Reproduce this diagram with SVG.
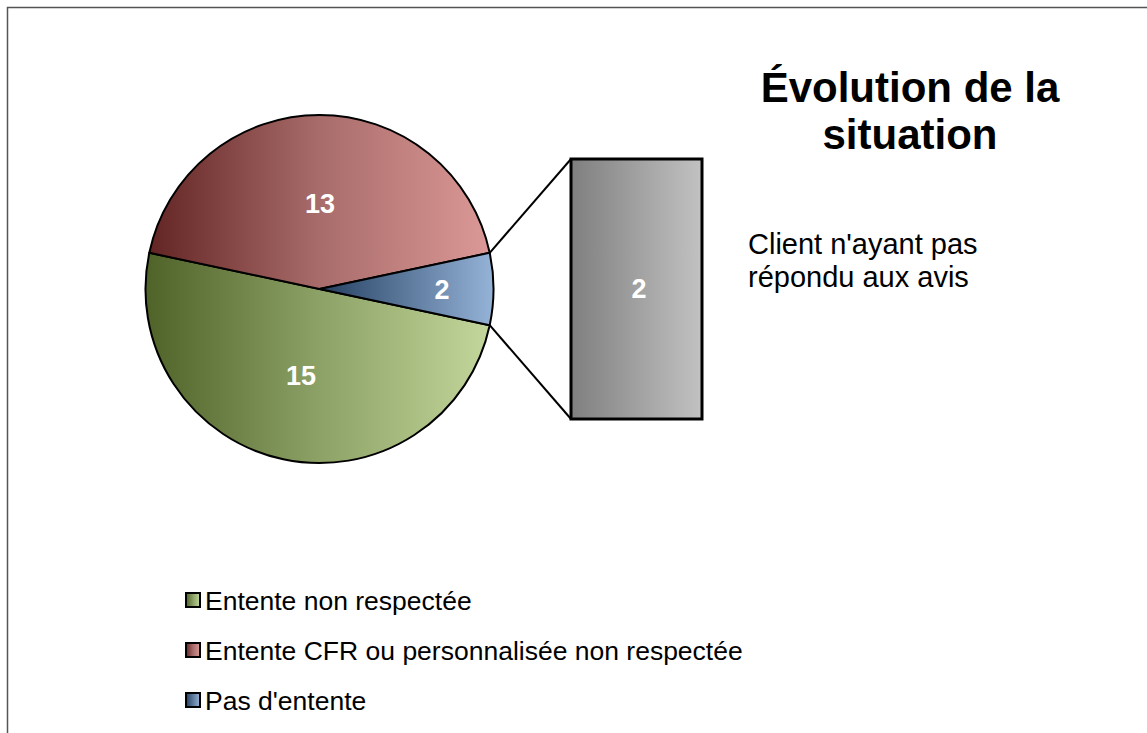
<svg xmlns="http://www.w3.org/2000/svg" width="1147" height="733" viewBox="0 0 1147 733">
<defs>
<linearGradient id="gRed" x1="0" y1="0" x2="1" y2="0"><stop offset="0" stop-color="#632523"/><stop offset="0.5" stop-color="#a86c6a"/><stop offset="1" stop-color="#db9896"/></linearGradient>
<linearGradient id="gGreen" x1="0" y1="0" x2="1" y2="0"><stop offset="0" stop-color="#4f6228"/><stop offset="0.5" stop-color="#8ca165"/><stop offset="1" stop-color="#c3d69b"/></linearGradient>
<linearGradient id="gBlue" x1="0" y1="0" x2="1" y2="0"><stop offset="0" stop-color="#243f60"/><stop offset="0.5" stop-color="#5d7a9d"/><stop offset="1" stop-color="#95b3d7"/></linearGradient>
<linearGradient id="gGray" x1="0" y1="0" x2="1" y2="0"><stop offset="0" stop-color="#7f7f7f"/><stop offset="1" stop-color="#c2c2c2"/></linearGradient>
<style>
.slice{stroke:#000;stroke-width:2;stroke-linejoin:round}
.lbl{font-family:"Liberation Sans",Arial,sans-serif;font-weight:bold;font-size:27px;fill:#fff;text-anchor:middle}
.leg{font-family:"Liberation Sans",Arial,sans-serif;font-size:26.5px;fill:#000}
.key{stroke:#000;stroke-width:2}
.conn{stroke:#000;stroke-width:2;fill:none}
</style>
</defs>
<rect width="1147" height="733" fill="#fff"/>
<path d="M7.5 733 V7.5 H1147" fill="none" stroke="#555" stroke-width="1.5"/>
<g id="title">
<text x="910" y="102" font-family="'Liberation Sans',Arial,sans-serif" font-weight="bold" font-size="42" text-anchor="middle">Évolution de la</text>
<text x="910" y="149" font-family="'Liberation Sans',Arial,sans-serif" font-weight="bold" font-size="42" text-anchor="middle">situation</text>
</g>
<g id="pie">
<g id="slice-green">
<path class="slice" fill="url(#gGreen)" d="M319.5 289 L489.7 325.2 A174 174 0 1 1 149.3 252.8 Z"/>
<text class="lbl" x="301" y="385">15</text>
</g>
<g id="slice-red">
<path class="slice" fill="url(#gRed)" d="M319.5 289 L149.3 252.8 A174 174 0 0 1 489.7 252.8 Z"/>
<text class="lbl" x="320" y="213">13</text>
</g>
<g id="slice-blue">
<path class="slice" fill="url(#gBlue)" d="M319.5 289 L489.7 252.8 A174 174 0 0 1 489.7 325.2 Z"/>
<text class="lbl" x="442" y="299">2</text>
</g>
</g>
<g id="connectors">
<line class="conn" x1="489.7" y1="252.8" x2="571" y2="159"/>
<line class="conn" x1="489.7" y1="325.2" x2="571" y2="419"/>
</g>
<g id="bar">
<rect x="571" y="159" width="131" height="260" fill="url(#gGray)" stroke="#000" stroke-width="3"/>
<text class="lbl" x="639" y="298">2</text>
</g>
<g id="annotation">
<text x="748" y="254" font-family="'Liberation Sans',Arial,sans-serif" font-size="29">Client n'ayant pas</text>
<text x="748" y="287" font-family="'Liberation Sans',Arial,sans-serif" font-size="29">répondu aux avis</text>
</g>
<g id="legend">
<g id="legend-green"><rect class="key" x="186" y="593" width="14" height="14" fill="url(#gGreen)"/><text class="leg" x="205" y="610">Entente non respectée</text></g>
<g id="legend-red"><rect class="key" x="186" y="643" width="14" height="14" fill="url(#gRed)"/><text class="leg" x="205" y="660">Entente CFR ou personnalisée non respectée</text></g>
<g id="legend-blue"><rect class="key" x="186" y="693" width="14" height="14" fill="url(#gBlue)"/><text class="leg" x="205" y="710">Pas d'entente</text></g>
</g>
</svg>
